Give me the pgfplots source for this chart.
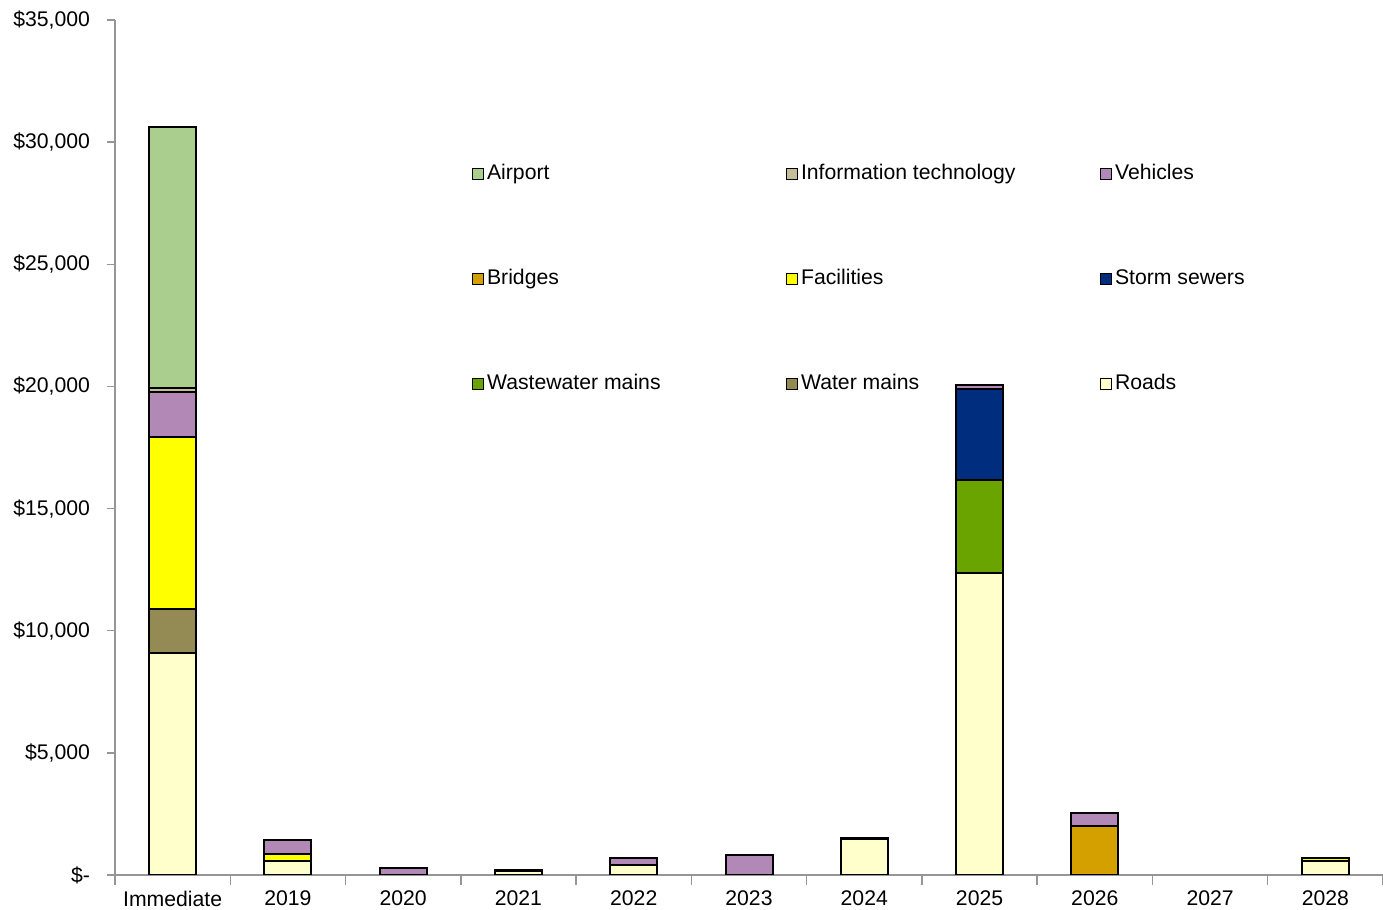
\documentclass[border=0pt]{standalone}
\usepackage{pgfplots}
\usepackage{pgfplotstable}
\pgfplotsset{compat=1.18}
\usepackage{fontspec}
\setmainfont{Liberation Sans}
\definecolor{cRoads}{RGB}{255,255,204}
\definecolor{cWater}{RGB}{148,138,84}
\definecolor{cWaste}{RGB}{106,164,0}
\definecolor{cStorm}{RGB}{0,45,125}
\definecolor{cFac}{RGB}{255,255,0}
\definecolor{cBridge}{RGB}{212,160,0}
\definecolor{cVeh}{RGB}{178,137,182}
\definecolor{cIT}{RGB}{196,189,151}
\definecolor{cAir}{RGB}{169,206,142}
\definecolor{axgray}{RGB}{150,150,150}
\pgfplotstableread{
x roads water waste storm fac bridges veh it air
0 9080 1810 0 0 7040 0 1840 165 10685
1 565 0 0 0 300 0 575 0 0
2 0 0 0 0 0 0 280 0 0
3 170 0 0 0 0 0 40 0 0
4 390 0 0 0 0 0 300 0 0
5 0 0 0 0 0 0 825 0 0
6 1470 0 0 0 0 0 40 0 0
7 12380 0 3770 3760 0 0 165 0 0
8 0 0 0 0 0 2026 530 0 0
10 580 0 0 0 120 0 0 0 0
}\data
\newcommand{\lb}[1]{\makebox[151pt][l]{\hspace{1.3pt}#1}}
\begin{document}
\begin{tikzpicture}
\begin{axis}[name=ax,
  scale only axis, width=634pt, height=427.5pt,
  ybar stacked, bar width=23.5pt,
  xmin=-0.5, xmax=10.5, ymin=0, ymax=35000,
  axis lines=left,
  axis line style={-, draw=axgray, line width=0.7pt},
  tick align=outside,
  xtick={0,...,10},
  xticklabels={Immediate,2019,2020,2021,2022,2023,2024,2025,2026,2027,2028},
  major x tick style={draw=none},
  minor xtick={-0.5,0.5,...,10.5},
  minor x tick style={draw=axgray, line width=0.7pt},
  minor tick length=5pt,
  ytick={0,5000,...,35000},
  yticklabels={{\$-},{\$5,000},{\$10,000},{\$15,000},{\$20,000},{\$25,000},{\$30,000},{\$35,000}},
  major y tick style={draw=axgray, line width=0.7pt},
  major tick length=4pt,
  every tick label/.append style={font=\fontsize{10.6}{12.7}\selectfont, text=black},
  yticklabel style={xshift=-5pt},
  xticklabel style={yshift=-0.5pt},
  every axis plot/.append style={draw=black, line width=1pt},
  legend columns=3,
  reverse legend,
  legend image code/.code={\draw[#1, line width=0.5pt, draw=black] (0pt,-2.75pt) rectangle (5.5pt,2.75pt);},
  legend style={at={(0.2816,0.8326)}, anchor=north west, draw=none, fill=none,
    inner sep=0pt, column sep=0pt, row sep=42pt,
    font=\fontsize{10.6}{12.7}\selectfont,
    nodes={inner sep=0pt, text height=8pt, text depth=2.5pt}},
]
\addplot[fill=cRoads] table[x=x,y=roads]{\data};
\addlegendentry{\lb{Roads}}
\addplot[fill=cWater] table[x=x,y=water]{\data};
\addlegendentry{\lb{Water mains}}
\addplot[fill=cWaste] table[x=x,y=waste]{\data};
\addlegendentry{\lb{Wastewater mains}}
\addplot[fill=cStorm] table[x=x,y=storm]{\data};
\addlegendentry{\lb{Storm sewers}}
\addplot[fill=cFac] table[x=x,y=fac]{\data};
\addlegendentry{\lb{Facilities}}
\addplot[fill=cBridge] table[x=x,y=bridges]{\data};
\addlegendentry{\lb{Bridges}}
\addplot[fill=cVeh] table[x=x,y=veh]{\data};
\addlegendentry{\lb{Vehicles}}
\addplot[fill=cIT] table[x=x,y=it]{\data};
\addlegendentry{\lb{Information technology}}
\addplot[fill=cAir] table[x=x,y=air]{\data};
\addlegendentry{\lb{Airport}}
\end{axis}
\pgfresetboundingbox
\path ([xshift=-57.5pt,yshift=-17.5pt]ax.south west) rectangle ([yshift=10pt]ax.north east);
\end{tikzpicture}
\end{document}
